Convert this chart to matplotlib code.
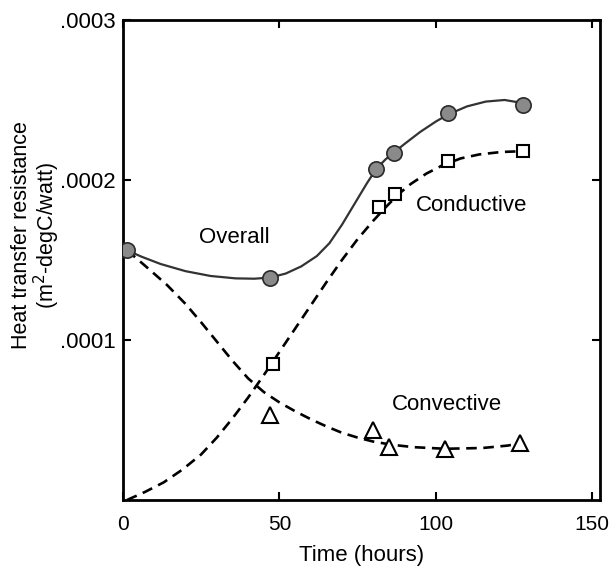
import numpy as np
import matplotlib
matplotlib.use("Agg")
import matplotlib.pyplot as plt
from matplotlib.ticker import FixedLocator, FuncFormatter

plt.rcParams['font.family'] = ['Liberation Sans', 'DejaVu Sans']

# measured points (hours, m^2-degC/watt)
overall_t = [1.3, 47, 81, 86.5, 104, 128]
overall_r = [1.56e-4, 1.39e-4, 2.07e-4, 2.17e-4, 2.42e-4, 2.47e-4]

conductive_t = [48, 82, 87, 104, 128]
conductive_r = [0.85e-4, 1.83e-4, 1.91e-4, 2.12e-4, 2.18e-4]

convective_t = [47, 80, 85, 103, 127]
convective_r = [0.53e-4, 0.44e-4, 0.33e-4, 0.32e-4, 0.355e-4]

# hand-fitted curves through the data (resistance in units of 1e-4)
overall_fit_t = [1.3, 6, 12, 20, 28, 36, 42, 47, 52, 57, 62, 66, 70, 74, 78,
                 81, 84, 86.5, 90, 95, 100, 104, 110, 116, 122, 128]
overall_fit_r = [1.56, 1.52, 1.475, 1.43, 1.40, 1.385, 1.383, 1.39, 1.415,
                 1.46, 1.525, 1.605, 1.72, 1.85, 1.98, 2.07, 2.13, 2.17, 2.225,
                 2.30, 2.365, 2.41, 2.46, 2.49, 2.50, 2.48]

conductive_fit_t = [1.3, 7, 13, 19, 25, 30, 35, 40, 45, 50, 55, 60, 65, 70,
                    75, 80, 84, 88, 92, 97, 102, 108, 114, 121, 128]
conductive_fit_r = [0.0, 0.05, 0.11, 0.19, 0.285, 0.39, 0.51, 0.64, 0.78,
                    0.925, 1.07, 1.215, 1.36, 1.50, 1.63, 1.745, 1.83, 1.91,
                    1.975, 2.04, 2.09, 2.135, 2.16, 2.175, 2.18]

convective_fit_t = [1.3, 7, 14, 20, 25, 30, 35, 40, 45, 50, 55, 60, 65, 70,
                    75, 80, 86, 93, 103, 115, 123, 127]
convective_fit_r = [1.56, 1.465, 1.345, 1.225, 1.11, 0.99, 0.87, 0.76, 0.675,
                    0.61, 0.555, 0.505, 0.46, 0.42, 0.39, 0.365, 0.345, 0.33,
                    0.32, 0.325, 0.34, 0.355]

x_ticks = [0, 50, 100, 150]
y_ticks = [1e-4, 2e-4, 3e-4]

fig = plt.figure(figsize=(6.15, 5.69), dpi=100)
ax = fig.add_axes([0.2, 0.1213, 0.7756, 0.8436])

ax.plot(overall_fit_t, np.array(overall_fit_r) * 1e-4, color='#333333', lw=1.6,
        solid_capstyle='round', zorder=2)
ax.plot(conductive_fit_t, np.array(conductive_fit_r) * 1e-4, color='black',
        lw=1.9, dashes=(4, 2.5), zorder=2)
ax.plot(convective_fit_t, np.array(convective_fit_r) * 1e-4, color='black',
        lw=1.9, dashes=(4, 2.5), zorder=2)

ax.plot(overall_t, overall_r, 'o', ms=11, mfc='#8a8a8a', mec='#2a2a2a', mew=1.2,
        zorder=4)
ax.plot(conductive_t, conductive_r, 's', ms=9, mfc='white', mec='black', mew=1.5,
        zorder=4)
ax.plot(convective_t, convective_r, '^', ms=11, mfc='white', mec='black', mew=1.5,
        zorder=4)

ax.text(35.5, 1.64e-4, 'Overall', fontsize=16, ha='center', va='center')
ax.text(111.5, 1.84e-4, 'Conductive', fontsize=16, ha='center', va='center')
ax.text(103.5, 0.595e-4, 'Convective', fontsize=16, ha='center', va='center')

ax.set_xlim(0, 152.5)
ax.set_ylim(0, 3e-4)
ax.xaxis.set_major_locator(FixedLocator(x_ticks))
ax.yaxis.set_major_locator(FixedLocator(y_ticks))
ax.yaxis.set_major_formatter(FuncFormatter(lambda v, p: ('%.4f' % v)[1:]))
ax.tick_params(direction='in', length=6, width=1.5, top=True, right=True)
ax.tick_params(axis='x', labelsize=15, pad=11)
ax.tick_params(axis='y', labelsize=16, pad=5)

for s in ax.spines.values():
    s.set_linewidth(2)

ax.set_xlabel('Time (hours)', fontsize=16, labelpad=8)
ax.set_ylabel('Heat transfer resistance\n(m$^2$-degC/watt)', fontsize=15.5,
              linespacing=1.0)
ax.yaxis.set_label_coords(-0.128, 0.552)

fig.savefig('out.png', dpi=100)
